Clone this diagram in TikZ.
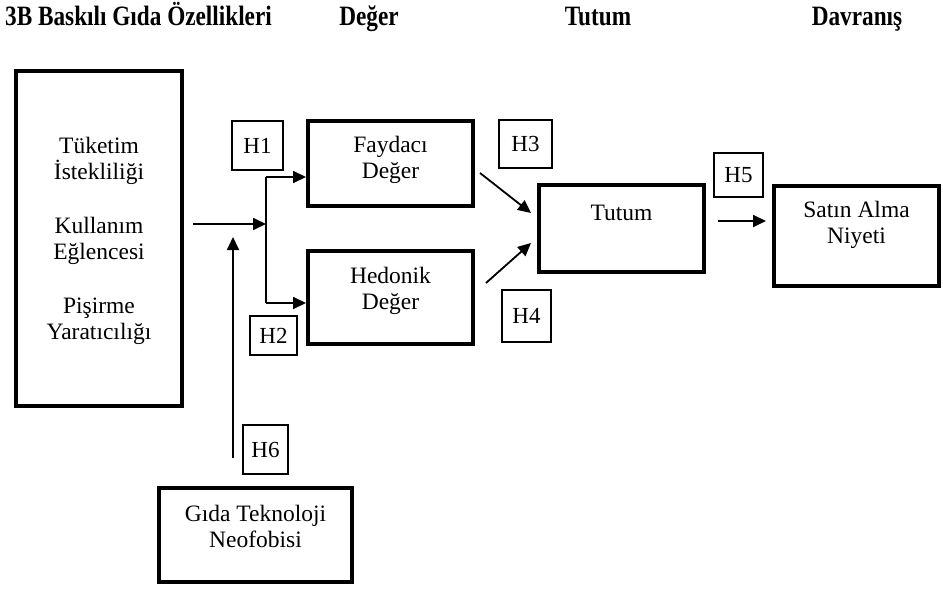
\documentclass[tikz,border=0pt]{standalone}
\usepackage{fontspec}
\setmainfont{Liberation Serif}
\usetikzlibrary{arrows.meta,calc,positioning}

\tikzset{
  kutu/.style={draw, line width=4pt, inner sep=0pt},
  hkutu/.style={draw, line width=1.2pt, inner sep=0pt, font=\fontsize{23}{23}\selectfont},
  metin/.style={align=center, inner sep=0pt, font=\fontsize{23.5}{26}\selectfont},
  baslik/.style={inner sep=0pt, anchor=base, xscale=0.83, font=\bfseries\fontsize{28}{28}\selectfont},
  cizgi/.style={line width=1.8pt},
  ok/.style={line width=1.8pt, -{Triangle[length=13pt,width=12pt]}},
}

\begin{document}
\begin{tikzpicture}[x=1pt,y=-1pt]
    \useasboundingbox (0,0) rectangle (943,589);
    % Basliklar
    \node[baslik, anchor=base west] (b1) at (5,25) {3B Baskılı Gıda Özellikleri};
    \node[baslik] (b2) at (369,25) {Değer};
    \node[baslik] (b3) at (598,25) {Tutum};
    \node[baslik] (b4) at (857,25) {Davranış};
    % Kutular
    \node[kutu, minimum width=166pt, minimum height=335pt] (sol) at (99,238.5) {};
    \node[kutu, minimum width=165pt, minimum height=85pt] (fay) at (390.5,163.5) {};
    \node[kutu, minimum width=165pt, minimum height=93pt] (hed) at (390.5,297.5) {};
    \node[kutu, minimum width=165pt, minimum height=87pt] (tut) at (621.5,228.5) {};
    \node[kutu, minimum width=165pt, minimum height=100pt] (sat) at (856.5,236) {};
    \node[kutu, minimum width=193pt, minimum height=94pt] (gida) at (255.5,535) {};
    % Kutu metinleri
    \node[metin] (sol-t) at (99,240.5) {Tüketim\\İstekliliği\\[28pt]Kullanım\\Eğlencesi\\[28pt]Pişirme\\Yaratıcılığı};
    \node[metin] (fay-t) at (390.5,159.5) {Faydacı\\Değer};
    \node[metin] (hed-t) at (390.5,290.5) {Hedonik\\Değer};
    \node[metin] (tut-t) at (621.5,213) {Tutum};
    \node[metin] (sat-t) at (856.5,225) {Satın Alma\\Niyeti};
    \node[metin] (gida-t) at (255.5,526.5) {Gıda Teknoloji\\Neofobisi};
    % Hipotezler
    \node[hkutu, minimum width=51pt, minimum height=49pt] (h1) at (257.5,145.5) {H1};
    \node[hkutu, minimum width=47pt, minimum height=39pt] (h2) at (273.5,335.5) {H2};
    \node[hkutu, minimum width=53pt, minimum height=48pt] (h3) at (525.5,144) {H3};
    \node[hkutu, minimum width=49pt, minimum height=52pt] (h4) at (526.5,316) {H4};
    \node[hkutu, minimum width=49pt, minimum height=44pt] (h5) at (738.5,175) {H5};
    \node[hkutu, minimum width=45pt, minimum height=49pt] (h6) at (265.5,449.5) {H6};
    % Oklar
    \coordinate (giris) at (193,224);
    \coordinate (dal) at (266,224);
    \coordinate (dalust) at (266,177);
    \coordinate (dalalt) at (266,303);
    \draw[ok] (giris) -- (dal);
    \draw[cizgi] (dalust) -- (dalalt);
    \draw[ok] (dalust) -- (dalust -| fay.west);
    \draw[ok] (dalalt) -- (dalalt -| hed.west);
    \coordinate (neo) at (233,458);
    \coordinate (neoucu) at (233,237);
    \draw[ok] (neo) -- (neoucu);
    \coordinate (fayc) at (480,173);
    \coordinate (hedc) at (486,283);
    \draw[ok] (fayc) -- ($(tut.west)+(-6,-15.5)$);
    \draw[ok] (hedc) -- ($(tut.west)+(-6,14.5)$);
    \coordinate (tutc) at (718,221);
    \draw[ok] (tutc) -- ($(sat.west)+(-6,-15)$);
\end{tikzpicture}
\end{document}
